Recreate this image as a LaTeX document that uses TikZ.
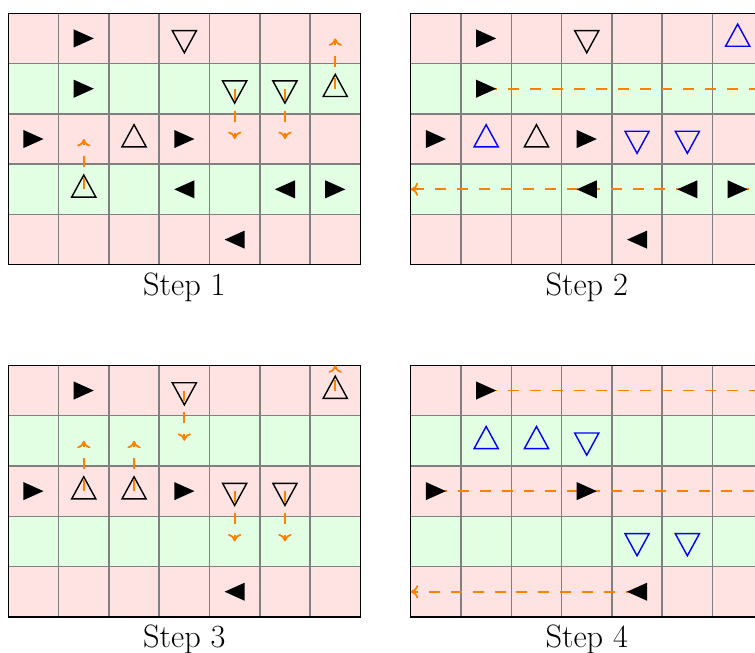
\documentclass[tikz,border=0pt]{standalone}
\usetikzlibrary{arrows.meta}
\definecolor{moverorange}{RGB}{255,128,0}
\tikzset{
  pinkrow/.style={fill=red!11},
  greenrow/.style={fill=green!11},
  gridline/.style={draw=gray, line width=0.8pt},
  frameline/.style={draw=black, line width=0.8pt},
  mover/.style={color=moverorange, line width=1pt, dash pattern=on 6.2pt off 6.2pt, -{To[width=7.5pt,length=4.2pt]}},
  captiontext/.style={font=\fontsize{18.3}{20}\selectfont, anchor=base, inner sep=0pt},
  carR/.pic={\fill[black] (-0.2,0.18) -- (0.2,0) -- (-0.2,-0.18) -- cycle;},
  carL/.pic={\fill[black] (0.2,0.18) -- (-0.2,0) -- (0.2,-0.18) -- cycle;},
  upT/.pic={\draw[line width=0.8pt, pic actions] (-0.24,-0.155) -- (0,0.285) -- (0.24,-0.155) -- cycle;},
  dnT/.pic={\draw[line width=0.8pt, pic actions] (-0.24,0.155) -- (0,-0.285) -- (0.24,0.155) -- cycle;},
}
\newcommand{\drawboard}[3]{%
  \begin{scope}[shift={(#2)}]
    \foreach \r in {0,2,4} \fill[pinkrow] (0,-\r) rectangle (7,-\r-1);
    \foreach \r in {1,3} \fill[greenrow] (0,-\r) rectangle (7,-\r-1);
    \foreach \x in {1,...,6} \draw[gridline] (\x,0) -- (\x,-5);
    \foreach \y in {1,...,4} \draw[gridline] (0,-\y) -- (7,-\y);
    \draw[frameline] (0,0) rectangle (7,-5);
    \foreach \c in {0,...,6} {\foreach \r in {0,...,4} {\coordinate (#1-\c-\r) at (\c+0.5,-\r-0.5);}}
    \foreach \r in {0,...,4} {\coordinate (#1-W-\r) at (0,-\r-0.5); \coordinate (#1-E-\r) at (7,-\r-0.5);}
    \foreach \c in {0,...,6} {\coordinate (#1-N-\c) at (\c+0.5,0);}
    \node[captiontext] (#1-cap) at (3.5,-5.616) {#3};
  \end{scope}}
\begin{document}
\begin{tikzpicture}
\useasboundingbox (0,0) rectangle (15.01,12.98);
\clip (0,0) rectangle (15.01,12.98);

\drawboard{p1}{0.165,12.716}{Step 1}
\drawboard{p2}{8.165,12.716}{Step 2}
\drawboard{p3}{0.165,5.716}{Step 3}
\drawboard{p4}{8.165,5.716}{Step 4}

% ---- Step 1 ----
\pic at (p1-3-0) {dnT};
\pic at (p1-4-1) {dnT};
\pic at (p1-5-1) {dnT};
\pic at (p1-6-1) {upT};
\pic at (p1-2-2) {upT};
\pic at (p1-1-3) {upT};
\draw[mover] (p1-1-3) -- (p1-1-2);
\draw[mover] (p1-4-1) -- (p1-4-2);
\draw[mover] (p1-5-1) -- (p1-5-2);
\draw[mover] (p1-6-1) -- (p1-6-0);
\pic at (p1-1-0) {carR};
\pic at (p1-1-1) {carR};
\pic at (p1-0-2) {carR};
\pic at (p1-3-2) {carR};
\pic at (p1-3-3) {carL};
\pic at (p1-5-3) {carL};
\pic at (p1-6-3) {carR};
\pic at (p1-4-4) {carL};

% ---- Step 2 ----
\pic at (p2-3-0) {dnT};
\pic[blue] at (p2-6-0) {upT};
\pic[blue] at (p2-1-2) {upT};
\pic at (p2-2-2) {upT};
\pic[blue] at (p2-4-2) {dnT};
\pic[blue] at (p2-5-2) {dnT};
\draw[mover] (p2-1-1) -- (p2-E-1);
\draw[mover] (p2-5-3) -- (p2-W-3);
\draw[mover] (p2-6-3) -- (p2-E-3);
\pic at (p2-1-0) {carR};
\pic at (p2-1-1) {carR};
\pic at (p2-0-2) {carR};
\pic at (p2-3-2) {carR};
\pic at (p2-3-3) {carL};
\pic at (p2-5-3) {carL};
\pic at (p2-6-3) {carR};
\pic at (p2-4-4) {carL};

% ---- Step 3 ----
\pic at (p3-3-0) {dnT};
\pic at (p3-6-0) {upT};
\pic at (p3-1-2) {upT};
\pic at (p3-2-2) {upT};
\pic at (p3-4-2) {dnT};
\pic at (p3-5-2) {dnT};
\draw[mover] (p3-3-0) -- (p3-3-1);
\draw[mover] (p3-6-0) -- (p3-N-6);
\draw[mover] (p3-1-2) -- (p3-1-1);
\draw[mover] (p3-2-2) -- (p3-2-1);
\draw[mover] (p3-4-2) -- (p3-4-3);
\draw[mover] (p3-5-2) -- (p3-5-3);
\pic at (p3-1-0) {carR};
\pic at (p3-0-2) {carR};
\pic at (p3-3-2) {carR};
\pic at (p3-4-4) {carL};

% ---- Step 4 ----
\pic[blue] at (p4-1-1) {upT};
\pic[blue] at (p4-2-1) {upT};
\pic[blue] at (p4-3-1) {dnT};
\pic[blue] at (p4-4-3) {dnT};
\pic[blue] at (p4-5-3) {dnT};
\draw[mover] (p4-1-0) -- (p4-E-0);
\draw[mover] (p4-0-2) -- (p4-E-2);
\draw[mover] (p4-4-4) -- (p4-W-4);
\pic at (p4-1-0) {carR};
\pic at (p4-0-2) {carR};
\pic at (p4-3-2) {carR};
\pic at (p4-4-4) {carL};
\end{tikzpicture}
\end{document}
